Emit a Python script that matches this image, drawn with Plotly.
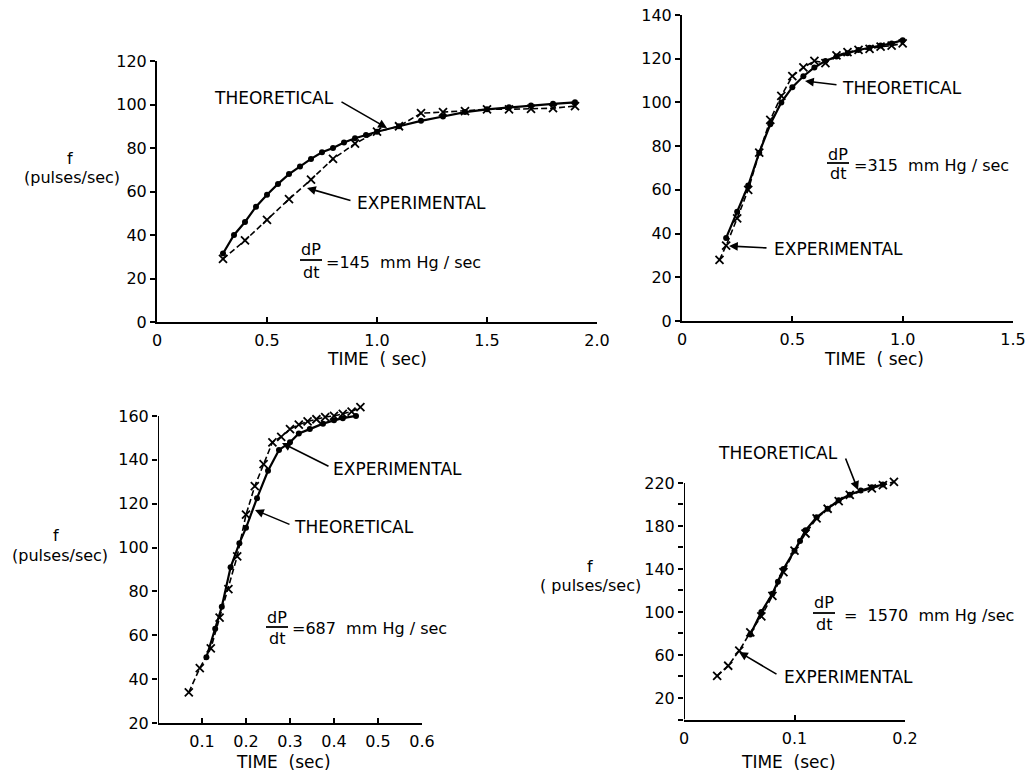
import plotly.graph_objects as go

# ---------------- data ----------------
# Panel A: dP/dt = 145 mm Hg/sec
a_theo_t = [0.30, 0.35, 0.40, 0.45, 0.50, 0.55, 0.60, 0.65, 0.70, 0.75, 0.80, 0.85, 0.90, 0.95, 1.00,
            1.10, 1.20, 1.30, 1.40, 1.50, 1.60, 1.70, 1.80, 1.90]
a_theo_f = [31.5, 40, 46, 53, 58.5, 63.5, 68, 71.5, 75, 78, 80, 82.5, 84.5, 86, 87.5,
            90, 92.5, 94.5, 96.5, 97.8, 98.7, 99.5, 100.3, 101]
a_exp_t = [0.3, 0.4, 0.5, 0.6, 0.7, 0.8, 0.9, 1.0, 1.1, 1.2, 1.3, 1.4, 1.5, 1.6, 1.7, 1.8, 1.9]
a_exp_f = [29, 37.5, 47, 56.5, 65.5, 75, 82, 87.5, 90, 96, 96.5, 97, 97.8, 97.8, 98, 98.3, 99.3]

# Panel B: dP/dt = 315 mm Hg/sec
b_theo_t = [0.20, 0.25, 0.30, 0.35, 0.40, 0.45, 0.50, 0.55, 0.60, 0.65, 0.70, 0.75, 0.80, 0.85, 0.90, 0.95, 1.00]
b_theo_f = [38, 50, 62, 77, 90, 100, 107, 112, 116, 119, 121, 122.5, 124, 125, 126, 127, 128.5]
b_exp_t = [0.17, 0.20, 0.25, 0.30, 0.35, 0.40, 0.45, 0.50, 0.55, 0.60, 0.65, 0.70, 0.75, 0.80, 0.85, 0.90, 0.95, 1.00]
b_exp_f = [28, 34.5, 47, 60, 77, 92, 103, 112, 116, 119, 118, 121.5, 123, 124, 124.5, 125.5, 126, 127]

# Panel C: dP/dt = 687 mm Hg/sec
c_theo_t = [0.11, 0.13, 0.145, 0.165, 0.185, 0.20, 0.225, 0.25, 0.275, 0.30, 0.32, 0.345, 0.375, 0.40, 0.42, 0.45]
c_theo_f = [50, 63, 73, 91, 102, 109, 122.5, 135, 144.5, 148, 152, 154, 156.5, 158, 159, 160]
c_exp_t = [0.07, 0.095, 0.12, 0.14, 0.16, 0.18, 0.20, 0.22, 0.24, 0.26, 0.28, 0.30, 0.32, 0.34, 0.36,
           0.38, 0.40, 0.42, 0.44, 0.46]
c_exp_f = [34, 45, 54, 68, 81, 96, 115, 128, 138, 148, 150.5, 154, 156, 157.5, 158.5,
           159.5, 160, 161, 162, 164]

# Panel D: dP/dt = 1570 mm Hg/sec
d_theo_t = [0.06, 0.07, 0.08, 0.085, 0.09, 0.10, 0.105, 0.11, 0.12, 0.13, 0.14, 0.15, 0.16, 0.17, 0.18]
d_theo_f = [79, 100, 117, 128, 140, 157, 166, 176, 188, 196, 204, 209, 213, 216, 218.5]
d_exp_t = [0.03, 0.04, 0.05, 0.06, 0.07, 0.08, 0.09, 0.10, 0.11, 0.12, 0.13, 0.14, 0.15, 0.17, 0.18, 0.19]
d_exp_f = [40.5, 50, 64, 81, 96, 115, 137, 157, 173, 187, 196, 203, 209, 215, 218, 221]

a_xticks = [0, 0.5, 1.0, 1.5, 2.0]
a_xlabels = ["0", "0.5", "1.0", "1.5", "2.0"]
b_xticks = [0, 0.5, 1.0, 1.5]
b_xlabels = ["0", "0.5", "1.0", "1.5"]
c_xticks = [0.1, 0.2, 0.3, 0.4, 0.5, 0.6]
c_xlabels = ["0.1", "0.2", "0.3", "0.4", "0.5", "0.6"]
d_xticks = [0, 0.1, 0.2]
d_xlabels = ["0", "0.1", "0.2"]
a_yticks = [0, 20, 40, 60, 80, 100, 120]
b_yticks = [0, 20, 40, 60, 80, 100, 120, 140]
c_yticks = [20, 40, 60, 80, 100, 120, 140, 160]
d_yticks = [20, 60, 100, 140, 180, 220]

# ---------------- layout helpers ----------------
W, H = 1031, 775
FONT = "DejaVu Sans"


def px(x):
    return x / W


def py(y):
    return 1 - y / H


fig = go.Figure()

# (suffix, series..., x domain px, y domain px (bottom, top of range), x range, y range,
#  y-axis line extent, ticks)
panels = [
    ("", a_theo_t, a_theo_f, a_exp_t, a_exp_f, (157, 597), (322, 61), [0, 2.0], [0, 120], None,
     a_xticks, a_xlabels, a_yticks),
    ("2", b_theo_t, b_theo_f, b_exp_t, b_exp_f, (682, 1013), (321, 15), [0, 1.5], [0, 140], None,
     b_xticks, b_xlabels, b_yticks),
    ("3", c_theo_t, c_theo_f, c_exp_t, c_exp_f, (158, 422), (723, 402.8), [0, 0.6], [20, 166], (20, 160),
     c_xticks, c_xlabels, c_yticks),
    ("4", d_theo_t, d_theo_f, d_exp_t, d_exp_f, (684, 905), (719.5, 476.5), [0, 0.2], [0, 226], (0, 220),
     d_xticks, d_xlabels, d_yticks),
]

layout_axes = {}
shapes = []
for (sfx, tt, tf, et, ef, xd, yd, xr, yr, yline, xt, xl, yt) in panels:
    xa = "x" + sfx
    ya = "y" + sfx
    fig.add_trace(go.Scatter(
        x=tt, y=tf, xaxis=xa, yaxis=ya, mode="lines+markers", cliponaxis=False,
        line=dict(color="black", width=2.2),
        marker=dict(symbol="circle", size=6, color="black"),
        showlegend=False, hoverinfo="skip"))
    fig.add_trace(go.Scatter(
        x=et, y=ef, xaxis=xa, yaxis=ya, mode="lines+markers", cliponaxis=False,
        line=dict(color="black", width=1.6, dash="6px,3px"),
        marker=dict(symbol="x-thin", size=8, line=dict(color="black", width=1.8)),
        showlegend=False, hoverinfo="skip"))
    common = dict(showgrid=False, zeroline=False, linecolor="black",
                  linewidth=2, ticklen=5, tickwidth=2, tickcolor="black",
                  tickfont=dict(family=FONT, size=16, color="black"), automargin=False,
                  fixedrange=True)
    xaxis = dict(domain=[px(xd[0]), px(xd[1])], range=xr, tickmode="array",
                 tickvals=xt, ticktext=xl, anchor=ya, ticks="inside", ticklabelstandoff=3,
                 showline=True, **common)
    yaxis = dict(domain=[py(yd[0]), py(yd[1])], range=yr, tickmode="array",
                 tickvals=yt, anchor=xa, ticks="outside", showline=(yline is None), **common)
    if yline is not None:
        shapes.append(dict(type="line", xref=xa, yref=ya, x0=xr[0], x1=xr[0],
                           y0=yline[0], y1=yline[1], line=dict(color="black", width=2)))
    if sfx == "4":
        yaxis["minor"] = dict(tickmode="linear", tick0=0, dtick=20, ticks="outside",
                              ticklen=5, tickwidth=2, tickcolor="black")
    layout_axes["xaxis" + sfx] = xaxis
    layout_axes["yaxis" + sfx] = yaxis

fig.update_layout(**layout_axes)

ann = []


def text(x, y, s, size=17, xanchor="center"):
    ann.append(dict(x=px(x), y=py(y), xref="paper", yref="paper", text=s, showarrow=False,
                    xanchor=xanchor, yanchor="middle",
                    font=dict(family=FONT, size=size, color="black")))


def arrow(tail, head):
    ann.append(dict(x=px(head[0]), y=py(head[1]), xref="paper", yref="paper", text="",
                    showarrow=True, ax=tail[0] - head[0], ay=tail[1] - head[1],
                    axref="pixel", ayref="pixel", arrowhead=2, arrowsize=1.1,
                    arrowwidth=1.6, arrowcolor="black"))


def fraction(xc, y_num, y_bar, y_den, half_w, x_eq, y_eq, eq):
    text(xc, y_num, "dP", size=16)
    text(xc, y_den, "dt", size=16)
    shapes.append(dict(type="line", xref="paper", yref="paper",
                       x0=px(xc - half_w), x1=px(xc + half_w), y0=py(y_bar), y1=py(y_bar),
                       line=dict(color="black", width=1.8)))
    text(x_eq, y_eq, eq, size=16, xanchor="left")


# Panel A texts
text(212, 98, "THEORETICAL", xanchor="left")
arrow((340, 101), (387, 128))
text(355, 203, "EXPERIMENTAL", xanchor="left")
arrow((352, 201), (307, 188))
fraction(311, 250, 260, 272, 11, 324, 262, "=145  mm Hg / sec")
text(377, 359, "TIME  ( sec)")
text(70, 158, "f", size=16)
text(72, 177, "(pulses/sec)", size=16)

# Panel B texts
text(840, 88, "THEORETICAL", xanchor="left")
arrow((838, 85), (805, 81))
text(772, 249, "EXPERIMENTAL", xanchor="left")
arrow((768, 248), (729, 246))
fraction(838, 154, 163, 174, 11, 852, 165, "=315  mm Hg / sec")
text(874, 359, "TIME  ( sec)")

# Panel C texts
text(331, 469, "EXPERIMENTAL", xanchor="left")
arrow((330, 467), (282, 443))
text(292, 527, "THEORETICAL", xanchor="left")
arrow((291, 525), (255, 510))
fraction(277, 617, 627, 638, 11, 290, 628, "=687  mm Hg / sec")
text(283, 762, "TIME  (sec)")
text(56, 535, "f", size=16)
text(60, 555, "(pulses/sec)", size=16)

# Panel D texts
text(716, 453, "THEORETICAL", xanchor="left")
arrow((845, 457), (858, 490))
text(782, 677, "EXPERIMENTAL", xanchor="left")
arrow((778, 675), (739, 652))
fraction(824, 602, 613, 624, 11, 842, 615, "=  1570  mm Hg /sec")
text(788, 762, "TIME  (sec)")
text(590, 566, "f", size=16)
text(590, 585, "( pulses/sec)", size=16)

fig.update_layout(
    width=W, height=H,
    margin=dict(l=0, r=0, t=0, b=0, autoexpand=False),
    paper_bgcolor="white", plot_bgcolor="white",
    annotations=ann, shapes=shapes,
    showlegend=False,
)

fig.write_html("out.html")
